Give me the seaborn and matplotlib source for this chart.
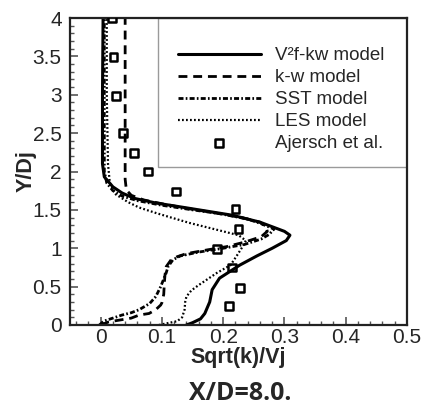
import matplotlib
matplotlib.use('Agg')
import matplotlib.pyplot as plt
import seaborn as sns
from matplotlib.patches import Rectangle
from matplotlib.ticker import MultipleLocator, FuncFormatter

# ---- data (Y/Dj, Sqrt(k)/Vj) ----
v2f_y = [0.0, 0.03, 0.08, 0.15, 0.30, 0.46, 0.61, 0.78, 0.90, 1.00, 1.10, 1.17,
         1.22, 1.28, 1.34, 1.43, 1.52, 1.59, 1.65, 1.72, 1.80, 1.93, 2.10, 3.00, 4.00]
v2f_x = [0.140, 0.150, 0.163, 0.170, 0.178, 0.182, 0.194, 0.227, 0.255, 0.280, 0.303, 0.309,
         0.300, 0.280, 0.260, 0.215, 0.145, 0.090, 0.055, 0.035, 0.020, 0.006, 0.003, 0.003, 0.004]

kw_y = [0.0, 0.04, 0.09, 0.13, 0.15, 0.20, 0.26, 0.29, 0.40, 0.55, 0.65, 0.76, 0.85, 0.89,
        0.93, 0.98, 1.02, 1.08, 1.15, 1.22, 1.28, 1.34, 1.40, 1.47, 1.52, 1.58, 1.63, 1.69,
        1.76, 1.90, 2.50, 3.00, 4.00]
kw_x = [0.000, 0.013, 0.050, 0.063, 0.079, 0.090, 0.098, 0.100, 0.103, 0.104, 0.105, 0.107,
        0.115, 0.125, 0.140, 0.175, 0.205, 0.235, 0.262, 0.272, 0.270, 0.260, 0.230, 0.180,
        0.140, 0.100, 0.070, 0.050, 0.042, 0.040, 0.040, 0.040, 0.040]

sst_y = [0.0, 0.05, 0.09, 0.13, 0.16, 0.20, 0.28, 0.37, 0.50, 0.60, 0.68, 0.76, 0.85, 0.90,
         0.95, 1.00, 1.05, 1.12, 1.18, 1.25, 1.32, 1.38, 1.45, 1.50, 1.56, 1.62, 1.68, 1.75,
         1.85, 2.00, 3.00, 4.00]
sst_x = [-0.002, 0.005, 0.020, 0.035, 0.050, 0.063, 0.080, 0.090, 0.098, 0.103, 0.107, 0.110,
         0.118, 0.130, 0.160, 0.200, 0.235, 0.262, 0.275, 0.283, 0.262, 0.240, 0.195, 0.150,
         0.100, 0.060, 0.035, 0.020, 0.010, 0.006, 0.006, 0.006]

les_y = [0.0, 0.02, 0.05, 0.10, 0.20, 0.30, 0.37, 0.45, 0.52, 0.60, 0.68, 0.78, 0.90, 1.00,
         1.10, 1.17, 1.24, 1.29, 1.33, 1.40, 1.46, 1.53, 1.60, 1.70, 1.85, 2.10, 3.00, 4.00]
les_x = [0.095, 0.107, 0.125, 0.133, 0.137, 0.138, 0.140, 0.148, 0.160, 0.175, 0.190, 0.212,
         0.222, 0.230, 0.237, 0.225, 0.190, 0.165, 0.145, 0.115, 0.090, 0.063, 0.045, 0.025,
         0.015, 0.012, 0.010, 0.010]

exp_y = [4.0, 3.49, 2.98, 2.5, 2.24, 2.0, 1.74, 1.51, 1.25, 0.99, 0.75, 0.48, 0.25]
exp_x = [0.018, 0.021, 0.025, 0.036, 0.054, 0.077, 0.123, 0.220, 0.225, 0.190, 0.214, 0.228, 0.210]

labels = ['V²f-kw model', 'k-w model', 'SST model', 'LES model', 'Ajersch et al.']
x_label = 'Sqrt(k)/Vj'
y_label = 'Y/Dj'
title = 'X/D=8.0.'

sns.set_theme(style='white')
plt.rcParams['font.family'] = ['Liberation Sans', 'DejaVu Sans']

fig = plt.figure(figsize=(4.25, 4.09), dpi=100)
ax = fig.add_axes([70 / 425, 1 - 325 / 409, 337 / 425, 307 / 409])

sns.lineplot(x=v2f_x, y=v2f_y, ax=ax, sort=False, estimator=None, color='black',
             lw=2.2, linestyle='-')
sns.lineplot(x=kw_x, y=kw_y, ax=ax, sort=False, estimator=None, color='black',
             lw=2.0, linestyle=(0, (3.2, 2.1)))
sns.lineplot(x=sst_x, y=sst_y, ax=ax, sort=False, estimator=None, color='black',
             lw=2.0, linestyle=(0, (1.8, 0.8, 0.6, 0.8)))
sns.lineplot(x=les_x, y=les_y, ax=ax, sort=False, estimator=None, color='black',
             lw=1.6, linestyle=(0, (0.8, 1.0)))
sns.scatterplot(x=exp_x, y=exp_y, ax=ax, marker='s', s=32, facecolors='none',
                edgecolor='black', linewidth=1.8, zorder=3)

lines = ax.get_lines()[:4]
scat = ax.collections[-1]

ax.set_xlim(-0.05, 0.5)
ax.set_ylim(0, 4)
ax.xaxis.set_major_locator(MultipleLocator(0.1))
ax.xaxis.set_minor_locator(MultipleLocator(0.02))
ax.yaxis.set_major_locator(MultipleLocator(0.5))
ax.yaxis.set_minor_locator(MultipleLocator(0.1))
fmt = FuncFormatter(lambda v, p: f'{0 if abs(v) < 1e-9 else v:g}')
ax.xaxis.set_major_formatter(fmt)
ax.yaxis.set_major_formatter(fmt)
ax.tick_params(which='both', direction='in', bottom=True, left=True, top=False,
               right=False, color='#555555')
ax.tick_params(which='major', length=6, width=1.2, labelsize=15)
ax.tick_params(which='minor', length=3, width=1.0)
ax.tick_params(axis='x', which='major', pad=2.5)
ax.tick_params(axis='y', which='major', pad=6)
for s in ax.spines.values():
    s.set_color('#222222')
    s.set_linewidth(1.6)

ax.set_xlabel(x_label, fontsize=15.5, fontweight='bold', labelpad=0)
ax.set_ylabel(y_label, fontsize=15.5, fontweight='bold', labelpad=-3)

rect = Rectangle((0.261, 0.515), 0.739, 0.485, transform=ax.transAxes, facecolor='white',
                 edgecolor='#9a9a9a', lw=1.0, zorder=2.2)
ax.add_patch(rect)

leg = ax.legend(list(lines) + [scat], labels, loc='upper left',
                bbox_to_anchor=((178 - 70) / 337, (325 - 47) / 307),
                frameon=False, fontsize=13.5, handlelength=4.4, handletextpad=0.75,
                labelspacing=0.26, borderaxespad=0, borderpad=0, scatterpoints=1)
leg.set_zorder(5)

fig.text(240 / 425, 1 - 393 / 409, title, fontsize=18, fontweight='bold',
         family=['Open Sans', 'DejaVu Sans'], ha='center', va='center')

fig.savefig('out.png', dpi=100)
